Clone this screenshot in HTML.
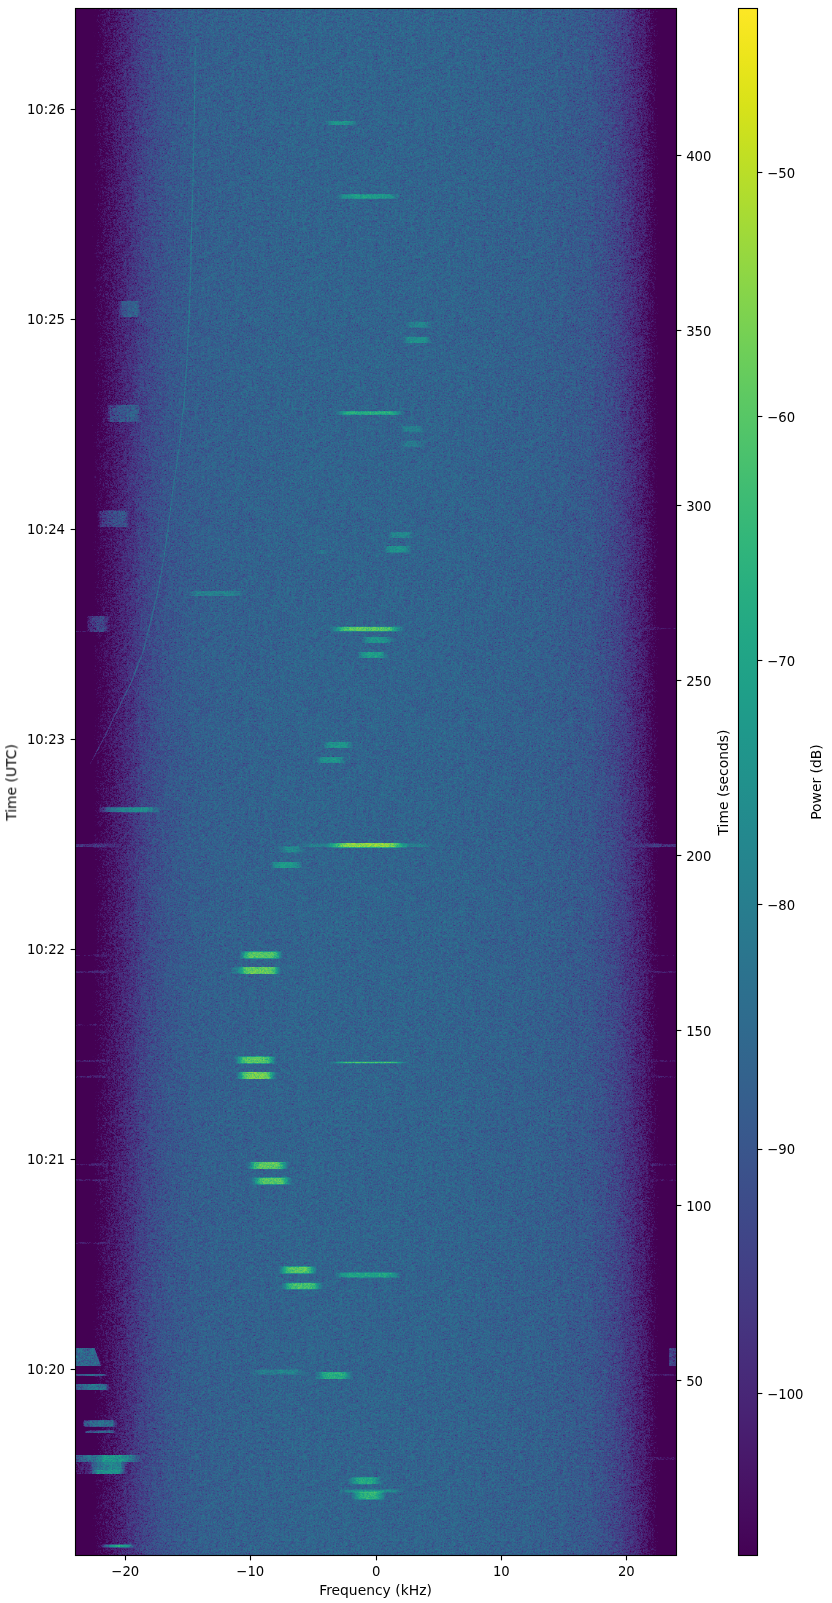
<!DOCTYPE html>
<html lang="en"><head><meta charset="utf-8"><title>Waterfall</title>
<style>html,body{margin:0;padding:0;background:#fff}svg{display:block}text{font-family:"DejaVu Sans","Liberation Sans",sans-serif;font-size:13.889px;fill:#000}</style>
</head><body>
<svg width="832" height="1603" viewBox="0 0 832 1603">
<defs>
<linearGradient id="prof" gradientUnits="userSpaceOnUse" x1="76" y1="0" x2="676" y2="0">
<stop offset="0.0000" stop-color="rgb(10,128,0)"/>
<stop offset="0.0167" stop-color="rgb(41,128,0)"/>
<stop offset="0.0233" stop-color="rgb(78,140,0)"/>
<stop offset="0.0283" stop-color="rgb(91,148,0)"/>
<stop offset="0.0333" stop-color="rgb(98,148,0)"/>
<stop offset="0.0400" stop-color="rgb(102,148,0)"/>
<stop offset="0.0483" stop-color="rgb(106,148,0)"/>
<stop offset="0.0600" stop-color="rgb(110,145,0)"/>
<stop offset="0.0733" stop-color="rgb(116,143,0)"/>
<stop offset="0.0900" stop-color="rgb(123,140,0)"/>
<stop offset="0.1067" stop-color="rgb(131,138,0)"/>
<stop offset="0.1233" stop-color="rgb(136,135,0)"/>
<stop offset="0.1483" stop-color="rgb(142,133,0)"/>
<stop offset="0.1817" stop-color="rgb(146,130,0)"/>
<stop offset="0.2400" stop-color="rgb(149,128,0)"/>
<stop offset="0.3733" stop-color="rgb(151,128,0)"/>
<stop offset="0.5000" stop-color="rgb(151,128,0)"/>
<stop offset="0.6233" stop-color="rgb(151,128,0)"/>
<stop offset="0.7483" stop-color="rgb(149,128,0)"/>
<stop offset="0.7900" stop-color="rgb(148,130,0)"/>
<stop offset="0.8233" stop-color="rgb(146,133,0)"/>
<stop offset="0.8567" stop-color="rgb(144,135,0)"/>
<stop offset="0.8817" stop-color="rgb(139,138,0)"/>
<stop offset="0.9017" stop-color="rgb(134,140,0)"/>
<stop offset="0.9183" stop-color="rgb(127,143,0)"/>
<stop offset="0.9350" stop-color="rgb(119,145,0)"/>
<stop offset="0.9483" stop-color="rgb(113,148,0)"/>
<stop offset="0.9567" stop-color="rgb(107,148,0)"/>
<stop offset="0.9633" stop-color="rgb(102,148,0)"/>
<stop offset="0.9683" stop-color="rgb(97,148,0)"/>
<stop offset="0.9733" stop-color="rgb(90,148,0)"/>
<stop offset="0.9783" stop-color="rgb(71,140,0)"/>
<stop offset="0.9850" stop-color="rgb(33,128,0)"/>
<stop offset="1.0000" stop-color="rgb(10,128,0)"/>
</linearGradient>
<linearGradient id="s10"><stop offset="0" stop-color="rgb(255,102,0)" stop-opacity="0"/><stop offset="0.050" stop-color="rgb(255,102,0)" stop-opacity="0.4"/><stop offset="0.100" stop-color="rgb(255,102,0)" stop-opacity="0.85"/><stop offset="0.160" stop-color="rgb(255,102,0)" stop-opacity="1"/><stop offset="0.840" stop-color="rgb(255,102,0)" stop-opacity="1"/><stop offset="0.900" stop-color="rgb(255,102,0)" stop-opacity="0.85"/><stop offset="0.950" stop-color="rgb(255,102,0)" stop-opacity="0.4"/><stop offset="1" stop-color="rgb(255,102,0)" stop-opacity="0"/></linearGradient>
<linearGradient id="s14"><stop offset="0" stop-color="rgb(255,102,0)" stop-opacity="0"/><stop offset="0.070" stop-color="rgb(255,102,0)" stop-opacity="0.4"/><stop offset="0.140" stop-color="rgb(255,102,0)" stop-opacity="0.85"/><stop offset="0.224" stop-color="rgb(255,102,0)" stop-opacity="1"/><stop offset="0.776" stop-color="rgb(255,102,0)" stop-opacity="1"/><stop offset="0.860" stop-color="rgb(255,102,0)" stop-opacity="0.85"/><stop offset="0.930" stop-color="rgb(255,102,0)" stop-opacity="0.4"/><stop offset="1" stop-color="rgb(255,102,0)" stop-opacity="0"/></linearGradient>
<linearGradient id="s15"><stop offset="0" stop-color="rgb(255,102,0)" stop-opacity="0"/><stop offset="0.075" stop-color="rgb(255,102,0)" stop-opacity="0.4"/><stop offset="0.150" stop-color="rgb(255,102,0)" stop-opacity="0.85"/><stop offset="0.240" stop-color="rgb(255,102,0)" stop-opacity="1"/><stop offset="0.760" stop-color="rgb(255,102,0)" stop-opacity="1"/><stop offset="0.850" stop-color="rgb(255,102,0)" stop-opacity="0.85"/><stop offset="0.925" stop-color="rgb(255,102,0)" stop-opacity="0.4"/><stop offset="1" stop-color="rgb(255,102,0)" stop-opacity="0"/></linearGradient>
<linearGradient id="s16"><stop offset="0" stop-color="rgb(255,102,0)" stop-opacity="0"/><stop offset="0.080" stop-color="rgb(255,102,0)" stop-opacity="0.4"/><stop offset="0.160" stop-color="rgb(255,102,0)" stop-opacity="0.85"/><stop offset="0.256" stop-color="rgb(255,102,0)" stop-opacity="1"/><stop offset="0.744" stop-color="rgb(255,102,0)" stop-opacity="1"/><stop offset="0.840" stop-color="rgb(255,102,0)" stop-opacity="0.85"/><stop offset="0.920" stop-color="rgb(255,102,0)" stop-opacity="0.4"/><stop offset="1" stop-color="rgb(255,102,0)" stop-opacity="0"/></linearGradient>
<linearGradient id="s17"><stop offset="0" stop-color="rgb(255,102,0)" stop-opacity="0"/><stop offset="0.085" stop-color="rgb(255,102,0)" stop-opacity="0.4"/><stop offset="0.170" stop-color="rgb(255,102,0)" stop-opacity="0.85"/><stop offset="0.272" stop-color="rgb(255,102,0)" stop-opacity="1"/><stop offset="0.728" stop-color="rgb(255,102,0)" stop-opacity="1"/><stop offset="0.830" stop-color="rgb(255,102,0)" stop-opacity="0.85"/><stop offset="0.915" stop-color="rgb(255,102,0)" stop-opacity="0.4"/><stop offset="1" stop-color="rgb(255,102,0)" stop-opacity="0"/></linearGradient>
<linearGradient id="s18"><stop offset="0" stop-color="rgb(255,102,0)" stop-opacity="0"/><stop offset="0.090" stop-color="rgb(255,102,0)" stop-opacity="0.4"/><stop offset="0.180" stop-color="rgb(255,102,0)" stop-opacity="0.85"/><stop offset="0.288" stop-color="rgb(255,102,0)" stop-opacity="1"/><stop offset="0.712" stop-color="rgb(255,102,0)" stop-opacity="1"/><stop offset="0.820" stop-color="rgb(255,102,0)" stop-opacity="0.85"/><stop offset="0.910" stop-color="rgb(255,102,0)" stop-opacity="0.4"/><stop offset="1" stop-color="rgb(255,102,0)" stop-opacity="0"/></linearGradient>
<linearGradient id="s19"><stop offset="0" stop-color="rgb(255,102,0)" stop-opacity="0"/><stop offset="0.095" stop-color="rgb(255,102,0)" stop-opacity="0.4"/><stop offset="0.190" stop-color="rgb(255,102,0)" stop-opacity="0.85"/><stop offset="0.304" stop-color="rgb(255,102,0)" stop-opacity="1"/><stop offset="0.696" stop-color="rgb(255,102,0)" stop-opacity="1"/><stop offset="0.810" stop-color="rgb(255,102,0)" stop-opacity="0.85"/><stop offset="0.905" stop-color="rgb(255,102,0)" stop-opacity="0.4"/><stop offset="1" stop-color="rgb(255,102,0)" stop-opacity="0"/></linearGradient>
<linearGradient id="s20"><stop offset="0" stop-color="rgb(255,102,0)" stop-opacity="0"/><stop offset="0.100" stop-color="rgb(255,102,0)" stop-opacity="0.4"/><stop offset="0.200" stop-color="rgb(255,102,0)" stop-opacity="0.85"/><stop offset="0.320" stop-color="rgb(255,102,0)" stop-opacity="1"/><stop offset="0.680" stop-color="rgb(255,102,0)" stop-opacity="1"/><stop offset="0.800" stop-color="rgb(255,102,0)" stop-opacity="0.85"/><stop offset="0.900" stop-color="rgb(255,102,0)" stop-opacity="0.4"/><stop offset="1" stop-color="rgb(255,102,0)" stop-opacity="0"/></linearGradient>
<linearGradient id="s21"><stop offset="0" stop-color="rgb(255,102,0)" stop-opacity="0"/><stop offset="0.105" stop-color="rgb(255,102,0)" stop-opacity="0.4"/><stop offset="0.210" stop-color="rgb(255,102,0)" stop-opacity="0.85"/><stop offset="0.336" stop-color="rgb(255,102,0)" stop-opacity="1"/><stop offset="0.664" stop-color="rgb(255,102,0)" stop-opacity="1"/><stop offset="0.790" stop-color="rgb(255,102,0)" stop-opacity="0.85"/><stop offset="0.895" stop-color="rgb(255,102,0)" stop-opacity="0.4"/><stop offset="1" stop-color="rgb(255,102,0)" stop-opacity="0"/></linearGradient>
<linearGradient id="s22"><stop offset="0" stop-color="rgb(255,102,0)" stop-opacity="0"/><stop offset="0.110" stop-color="rgb(255,102,0)" stop-opacity="0.4"/><stop offset="0.220" stop-color="rgb(255,102,0)" stop-opacity="0.85"/><stop offset="0.352" stop-color="rgb(255,102,0)" stop-opacity="1"/><stop offset="0.648" stop-color="rgb(255,102,0)" stop-opacity="1"/><stop offset="0.780" stop-color="rgb(255,102,0)" stop-opacity="0.85"/><stop offset="0.890" stop-color="rgb(255,102,0)" stop-opacity="0.4"/><stop offset="1" stop-color="rgb(255,102,0)" stop-opacity="0"/></linearGradient>
<linearGradient id="s23"><stop offset="0" stop-color="rgb(255,102,0)" stop-opacity="0"/><stop offset="0.115" stop-color="rgb(255,102,0)" stop-opacity="0.4"/><stop offset="0.230" stop-color="rgb(255,102,0)" stop-opacity="0.85"/><stop offset="0.368" stop-color="rgb(255,102,0)" stop-opacity="1"/><stop offset="0.632" stop-color="rgb(255,102,0)" stop-opacity="1"/><stop offset="0.770" stop-color="rgb(255,102,0)" stop-opacity="0.85"/><stop offset="0.885" stop-color="rgb(255,102,0)" stop-opacity="0.4"/><stop offset="1" stop-color="rgb(255,102,0)" stop-opacity="0"/></linearGradient>
<linearGradient id="s27"><stop offset="0" stop-color="rgb(255,102,0)" stop-opacity="0"/><stop offset="0.135" stop-color="rgb(255,102,0)" stop-opacity="0.4"/><stop offset="0.270" stop-color="rgb(255,102,0)" stop-opacity="0.85"/><stop offset="0.432" stop-color="rgb(255,102,0)" stop-opacity="1"/><stop offset="0.568" stop-color="rgb(255,102,0)" stop-opacity="1"/><stop offset="0.730" stop-color="rgb(255,102,0)" stop-opacity="0.85"/><stop offset="0.865" stop-color="rgb(255,102,0)" stop-opacity="0.4"/><stop offset="1" stop-color="rgb(255,102,0)" stop-opacity="0"/></linearGradient>
<linearGradient id="s28"><stop offset="0" stop-color="rgb(255,102,0)" stop-opacity="0"/><stop offset="0.140" stop-color="rgb(255,102,0)" stop-opacity="0.4"/><stop offset="0.280" stop-color="rgb(255,102,0)" stop-opacity="0.85"/><stop offset="0.448" stop-color="rgb(255,102,0)" stop-opacity="1"/><stop offset="0.552" stop-color="rgb(255,102,0)" stop-opacity="1"/><stop offset="0.720" stop-color="rgb(255,102,0)" stop-opacity="0.85"/><stop offset="0.860" stop-color="rgb(255,102,0)" stop-opacity="0.4"/><stop offset="1" stop-color="rgb(255,102,0)" stop-opacity="0"/></linearGradient>
<linearGradient id="s32"><stop offset="0" stop-color="rgb(255,102,0)" stop-opacity="0"/><stop offset="0.160" stop-color="rgb(255,102,0)" stop-opacity="0.4"/><stop offset="0.320" stop-color="rgb(255,102,0)" stop-opacity="0.85"/><stop offset="0.500" stop-color="rgb(255,102,0)" stop-opacity="1"/><stop offset="0.500" stop-color="rgb(255,102,0)" stop-opacity="1"/><stop offset="0.680" stop-color="rgb(255,102,0)" stop-opacity="0.85"/><stop offset="0.840" stop-color="rgb(255,102,0)" stop-opacity="0.4"/><stop offset="1" stop-color="rgb(255,102,0)" stop-opacity="0"/></linearGradient>
<linearGradient id="s33"><stop offset="0" stop-color="rgb(255,102,0)" stop-opacity="0"/><stop offset="0.165" stop-color="rgb(255,102,0)" stop-opacity="0.4"/><stop offset="0.330" stop-color="rgb(255,102,0)" stop-opacity="0.85"/><stop offset="0.500" stop-color="rgb(255,102,0)" stop-opacity="1"/><stop offset="0.500" stop-color="rgb(255,102,0)" stop-opacity="1"/><stop offset="0.670" stop-color="rgb(255,102,0)" stop-opacity="0.85"/><stop offset="0.835" stop-color="rgb(255,102,0)" stop-opacity="0.4"/><stop offset="1" stop-color="rgb(255,102,0)" stop-opacity="0"/></linearGradient>
<linearGradient id="a0"><stop offset="0" stop-color="rgb(126,166,0)" stop-opacity="0"/><stop offset="0.12" stop-color="rgb(133,166,0)" stop-opacity="1"/><stop offset="0.5" stop-color="rgb(143,166,0)" stop-opacity="1"/><stop offset="0.85" stop-color="rgb(149,166,0)" stop-opacity="1"/><stop offset="1" stop-color="rgb(149,166,0)" stop-opacity="0"/></linearGradient>
<linearGradient id="a1"><stop offset="0" stop-color="rgb(117,166,0)" stop-opacity="0"/><stop offset="0.12" stop-color="rgb(125,166,0)" stop-opacity="1"/><stop offset="0.5" stop-color="rgb(137,166,0)" stop-opacity="1"/><stop offset="0.85" stop-color="rgb(144,166,0)" stop-opacity="1"/><stop offset="1" stop-color="rgb(145,166,0)" stop-opacity="0"/></linearGradient>
<linearGradient id="a2"><stop offset="0" stop-color="rgb(111,166,0)" stop-opacity="0"/><stop offset="0.2" stop-color="rgb(119,166,0)" stop-opacity="1"/><stop offset="0.5" stop-color="rgb(130,166,0)" stop-opacity="1"/><stop offset="0.75" stop-color="rgb(136,166,0)" stop-opacity="1"/><stop offset="1" stop-color="rgb(137,166,0)" stop-opacity="0"/></linearGradient>
<linearGradient id="a3"><stop offset="0" stop-color="rgb(111,166,0)" stop-opacity="1"/><stop offset="1" stop-color="rgb(116,166,0)" stop-opacity="1"/></linearGradient>
<linearGradient id="a4"><stop offset="0" stop-color="rgb(136,166,0)" stop-opacity="1"/><stop offset="0.5" stop-color="rgb(151,166,0)" stop-opacity="1"/><stop offset="0.85" stop-color="rgb(148,166,0)" stop-opacity="1"/><stop offset="1" stop-color="rgb(140,166,0)" stop-opacity="0"/></linearGradient>
<linearGradient id="a5"><stop offset="0" stop-color="rgb(143,166,0)" stop-opacity="1"/><stop offset="0.5" stop-color="rgb(163,166,0)" stop-opacity="1"/><stop offset="0.85" stop-color="rgb(157,166,0)" stop-opacity="1"/><stop offset="1" stop-color="rgb(148,166,0)" stop-opacity="0"/></linearGradient>
<linearGradient id="a6"><stop offset="0" stop-color="rgb(133,166,0)" stop-opacity="0"/><stop offset="0.12" stop-color="rgb(143,166,0)" stop-opacity="1"/><stop offset="0.5" stop-color="rgb(159,166,0)" stop-opacity="1"/><stop offset="0.88" stop-color="rgb(154,166,0)" stop-opacity="1"/><stop offset="1" stop-color="rgb(148,166,0)" stop-opacity="0"/></linearGradient>
<linearGradient id="a7"><stop offset="0" stop-color="rgb(133,166,0)" stop-opacity="0"/><stop offset="0.1" stop-color="rgb(143,166,0)" stop-opacity="1"/><stop offset="0.85" stop-color="rgb(149,166,0)" stop-opacity="1"/><stop offset="1" stop-color="rgb(148,166,0)" stop-opacity="0"/></linearGradient>
<linearGradient id="a8"><stop offset="0" stop-color="rgb(143,166,0)" stop-opacity="1"/><stop offset="0.25" stop-color="rgb(157,166,0)" stop-opacity="1"/><stop offset="0.45" stop-color="rgb(183,166,0)" stop-opacity="1"/><stop offset="0.75" stop-color="rgb(178,166,0)" stop-opacity="1"/><stop offset="0.9" stop-color="rgb(163,166,0)" stop-opacity="0.7"/><stop offset="1" stop-color="rgb(148,166,0)" stop-opacity="0"/></linearGradient>
<linearGradient id="a9"><stop offset="0" stop-color="rgb(110,166,0)" stop-opacity="1"/><stop offset="0.5" stop-color="rgb(117,166,0)" stop-opacity="1"/><stop offset="1" stop-color="rgb(133,166,0)" stop-opacity="1"/></linearGradient>
<linearGradient id="a10"><stop offset="0" stop-color="rgb(125,166,0)" stop-opacity="0"/><stop offset="0.12" stop-color="rgb(152,166,0)" stop-opacity="1"/><stop offset="0.5" stop-color="rgb(172,166,0)" stop-opacity="1"/><stop offset="0.8" stop-color="rgb(169,166,0)" stop-opacity="1"/><stop offset="1" stop-color="rgb(148,166,0)" stop-opacity="0"/></linearGradient>
<linearGradient id="a11"><stop offset="0" stop-color="rgb(148,166,0)" stop-opacity="0"/><stop offset="0.2" stop-color="rgb(178,166,0)" stop-opacity="1"/><stop offset="0.8" stop-color="rgb(178,166,0)" stop-opacity="1"/><stop offset="1" stop-color="rgb(148,166,0)" stop-opacity="0"/></linearGradient>
<linearGradient id="a12"><stop offset="0" stop-color="rgb(125,166,0)" stop-opacity="0"/><stop offset="0.3" stop-color="rgb(133,166,0)" stop-opacity="1"/><stop offset="1" stop-color="rgb(131,166,0)" stop-opacity="1"/></linearGradient>
<linearGradient id="e0" gradientUnits="userSpaceOnUse" x1="76" y1="0" x2="676" y2="0"><stop offset="0" stop-color="rgb(123,128,0)" stop-opacity="1"/><stop offset="0.045" stop-color="rgb(128,128,0)" stop-opacity="0.9"/><stop offset="0.075" stop-color="rgb(136,128,0)" stop-opacity="0"/><stop offset="0.91" stop-color="rgb(137,128,0)" stop-opacity="0"/><stop offset="0.955" stop-color="rgb(130,128,0)" stop-opacity="0.9"/><stop offset="1" stop-color="rgb(125,128,0)" stop-opacity="1"/></linearGradient>
<linearGradient id="e1" gradientUnits="userSpaceOnUse" x1="76" y1="0" x2="676" y2="0"><stop offset="0" stop-color="rgb(110,128,0)" stop-opacity="1"/><stop offset="0.045" stop-color="rgb(114,128,0)" stop-opacity="0.9"/><stop offset="0.075" stop-color="rgb(122,128,0)" stop-opacity="0"/><stop offset="0.91" stop-color="rgb(119,128,0)" stop-opacity="0"/><stop offset="0.955" stop-color="rgb(111,128,0)" stop-opacity="0.9"/><stop offset="1" stop-color="rgb(107,128,0)" stop-opacity="1"/></linearGradient>
<linearGradient id="e2" gradientUnits="userSpaceOnUse" x1="76" y1="0" x2="676" y2="0"><stop offset="0" stop-color="rgb(116,128,0)" stop-opacity="1"/><stop offset="0.045" stop-color="rgb(120,128,0)" stop-opacity="0.9"/><stop offset="0.075" stop-color="rgb(128,128,0)" stop-opacity="0"/><stop offset="0.91" stop-color="rgb(123,128,0)" stop-opacity="0"/><stop offset="0.955" stop-color="rgb(116,128,0)" stop-opacity="0.9"/><stop offset="1" stop-color="rgb(111,128,0)" stop-opacity="1"/></linearGradient>
<linearGradient id="e3" gradientUnits="userSpaceOnUse" x1="76" y1="0" x2="676" y2="0"><stop offset="0" stop-color="rgb(107,128,0)" stop-opacity="1"/><stop offset="0.045" stop-color="rgb(111,128,0)" stop-opacity="0.9"/><stop offset="0.075" stop-color="rgb(119,128,0)" stop-opacity="0"/><stop offset="0.91" stop-color="rgb(114,128,0)" stop-opacity="0"/><stop offset="0.955" stop-color="rgb(107,128,0)" stop-opacity="0"/><stop offset="1" stop-color="rgb(102,128,0)" stop-opacity="0"/></linearGradient>
<linearGradient id="e4" gradientUnits="userSpaceOnUse" x1="76" y1="0" x2="676" y2="0"><stop offset="0" stop-color="rgb(113,128,0)" stop-opacity="1"/><stop offset="0.045" stop-color="rgb(117,128,0)" stop-opacity="0.9"/><stop offset="0.075" stop-color="rgb(125,128,0)" stop-opacity="0"/><stop offset="0.91" stop-color="rgb(122,128,0)" stop-opacity="0"/><stop offset="0.955" stop-color="rgb(114,128,0)" stop-opacity="0.9"/><stop offset="1" stop-color="rgb(110,128,0)" stop-opacity="1"/></linearGradient>
<linearGradient id="e5" gradientUnits="userSpaceOnUse" x1="76" y1="0" x2="676" y2="0"><stop offset="0" stop-color="rgb(114,128,0)" stop-opacity="1"/><stop offset="0.045" stop-color="rgb(119,128,0)" stop-opacity="0.9"/><stop offset="0.075" stop-color="rgb(126,128,0)" stop-opacity="0"/><stop offset="0.91" stop-color="rgb(122,128,0)" stop-opacity="0"/><stop offset="0.955" stop-color="rgb(114,128,0)" stop-opacity="0.9"/><stop offset="1" stop-color="rgb(110,128,0)" stop-opacity="1"/></linearGradient>
<linearGradient id="e6" gradientUnits="userSpaceOnUse" x1="76" y1="0" x2="676" y2="0"><stop offset="0" stop-color="rgb(113,128,0)" stop-opacity="1"/><stop offset="0.045" stop-color="rgb(117,128,0)" stop-opacity="0.9"/><stop offset="0.075" stop-color="rgb(125,128,0)" stop-opacity="0"/><stop offset="0.91" stop-color="rgb(123,128,0)" stop-opacity="0"/><stop offset="0.955" stop-color="rgb(116,128,0)" stop-opacity="0.9"/><stop offset="1" stop-color="rgb(111,128,0)" stop-opacity="1"/></linearGradient>
<linearGradient id="e7" gradientUnits="userSpaceOnUse" x1="76" y1="0" x2="676" y2="0"><stop offset="0" stop-color="rgb(111,128,0)" stop-opacity="1"/><stop offset="0.045" stop-color="rgb(116,128,0)" stop-opacity="0.9"/><stop offset="0.075" stop-color="rgb(123,128,0)" stop-opacity="0"/><stop offset="0.91" stop-color="rgb(119,128,0)" stop-opacity="0"/><stop offset="0.955" stop-color="rgb(111,128,0)" stop-opacity="0.9"/><stop offset="1" stop-color="rgb(107,128,0)" stop-opacity="1"/></linearGradient>
<linearGradient id="e8" gradientUnits="userSpaceOnUse" x1="76" y1="0" x2="676" y2="0"><stop offset="0" stop-color="rgb(110,128,0)" stop-opacity="1"/><stop offset="0.045" stop-color="rgb(114,128,0)" stop-opacity="0.9"/><stop offset="0.075" stop-color="rgb(122,128,0)" stop-opacity="0"/><stop offset="0.91" stop-color="rgb(114,128,0)" stop-opacity="0"/><stop offset="0.955" stop-color="rgb(107,128,0)" stop-opacity="0"/><stop offset="1" stop-color="rgb(102,128,0)" stop-opacity="0"/></linearGradient>
<linearGradient id="e9" gradientUnits="userSpaceOnUse" x1="76" y1="0" x2="676" y2="0"><stop offset="0" stop-color="rgb(102,128,0)" stop-opacity="0"/><stop offset="0.045" stop-color="rgb(107,128,0)" stop-opacity="0"/><stop offset="0.075" stop-color="rgb(114,128,0)" stop-opacity="0"/><stop offset="0.91" stop-color="rgb(122,128,0)" stop-opacity="0"/><stop offset="0.955" stop-color="rgb(114,128,0)" stop-opacity="0.9"/><stop offset="1" stop-color="rgb(110,128,0)" stop-opacity="1"/></linearGradient>
<linearGradient id="e10" gradientUnits="userSpaceOnUse" x1="76" y1="0" x2="676" y2="0"><stop offset="0" stop-color="rgb(102,128,0)" stop-opacity="0"/><stop offset="0.045" stop-color="rgb(107,128,0)" stop-opacity="0"/><stop offset="0.075" stop-color="rgb(114,128,0)" stop-opacity="0"/><stop offset="0.91" stop-color="rgb(122,128,0)" stop-opacity="0"/><stop offset="0.955" stop-color="rgb(114,128,0)" stop-opacity="0.9"/><stop offset="1" stop-color="rgb(110,128,0)" stop-opacity="1"/></linearGradient>
<linearGradient id="e11" gradientUnits="userSpaceOnUse" x1="76" y1="0" x2="676" y2="0"><stop offset="0" stop-color="rgb(102,128,0)" stop-opacity="0"/><stop offset="0.045" stop-color="rgb(107,128,0)" stop-opacity="0"/><stop offset="0.075" stop-color="rgb(114,128,0)" stop-opacity="0"/><stop offset="0.91" stop-color="rgb(120,128,0)" stop-opacity="0"/><stop offset="0.955" stop-color="rgb(113,128,0)" stop-opacity="0.9"/><stop offset="1" stop-color="rgb(108,128,0)" stop-opacity="1"/></linearGradient>
<linearGradient id="fb" gradientUnits="userSpaceOnUse" x1="76" y1="0" x2="676" y2="0">
<stop offset="0.0000" stop-color="rgb(68,1,84)"/>
<stop offset="0.0167" stop-color="rgb(68,1,84)"/>
<stop offset="0.0233" stop-color="rgb(68,1,84)"/>
<stop offset="0.0283" stop-color="rgb(68,1,84)"/>
<stop offset="0.0333" stop-color="rgb(68,1,84)"/>
<stop offset="0.0400" stop-color="rgb(68,1,84)"/>
<stop offset="0.0483" stop-color="rgb(70,10,93)"/>
<stop offset="0.0600" stop-color="rgb(72,22,104)"/>
<stop offset="0.0733" stop-color="rgb(72,33,115)"/>
<stop offset="0.0900" stop-color="rgb(70,48,126)"/>
<stop offset="0.1067" stop-color="rgb(66,64,134)"/>
<stop offset="0.1233" stop-color="rgb(62,74,137)"/>
<stop offset="0.1483" stop-color="rgb(57,85,140)"/>
<stop offset="0.1817" stop-color="rgb(54,92,141)"/>
<stop offset="0.2400" stop-color="rgb(52,97,141)"/>
<stop offset="0.3733" stop-color="rgb(50,100,142)"/>
<stop offset="0.5000" stop-color="rgb(50,101,142)"/>
<stop offset="0.6233" stop-color="rgb(50,100,142)"/>
<stop offset="0.7483" stop-color="rgb(52,97,141)"/>
<stop offset="0.7900" stop-color="rgb(53,95,141)"/>
<stop offset="0.8233" stop-color="rgb(54,92,141)"/>
<stop offset="0.8567" stop-color="rgb(56,88,140)"/>
<stop offset="0.8817" stop-color="rgb(60,80,139)"/>
<stop offset="0.9017" stop-color="rgb(64,70,136)"/>
<stop offset="0.9183" stop-color="rgb(68,57,131)"/>
<stop offset="0.9350" stop-color="rgb(72,40,120)"/>
<stop offset="0.9483" stop-color="rgb(72,26,108)"/>
<stop offset="0.9567" stop-color="rgb(71,13,96)"/>
<stop offset="0.9633" stop-color="rgb(68,1,84)"/>
<stop offset="0.9683" stop-color="rgb(68,1,84)"/>
<stop offset="0.9733" stop-color="rgb(68,1,84)"/>
<stop offset="0.9783" stop-color="rgb(68,1,84)"/>
<stop offset="0.9850" stop-color="rgb(68,1,84)"/>
<stop offset="1.0000" stop-color="rgb(68,1,84)"/>
</linearGradient>
<linearGradient id="cb" x1="0" y1="1" x2="0" y2="0">
<stop offset="0.0000" stop-color="rgb(68,1,84)"/>
<stop offset="0.0312" stop-color="rgb(71,13,96)"/>
<stop offset="0.0625" stop-color="rgb(72,24,106)"/>
<stop offset="0.0938" stop-color="rgb(72,35,116)"/>
<stop offset="0.1250" stop-color="rgb(71,45,123)"/>
<stop offset="0.1562" stop-color="rgb(69,55,129)"/>
<stop offset="0.1875" stop-color="rgb(66,64,134)"/>
<stop offset="0.2188" stop-color="rgb(62,73,137)"/>
<stop offset="0.2500" stop-color="rgb(59,82,139)"/>
<stop offset="0.2812" stop-color="rgb(55,91,141)"/>
<stop offset="0.3125" stop-color="rgb(51,99,141)"/>
<stop offset="0.3438" stop-color="rgb(47,107,142)"/>
<stop offset="0.3750" stop-color="rgb(44,114,142)"/>
<stop offset="0.4062" stop-color="rgb(41,122,142)"/>
<stop offset="0.4375" stop-color="rgb(38,130,142)"/>
<stop offset="0.4688" stop-color="rgb(35,137,142)"/>
<stop offset="0.5000" stop-color="rgb(33,145,140)"/>
<stop offset="0.5312" stop-color="rgb(31,152,139)"/>
<stop offset="0.5625" stop-color="rgb(31,160,136)"/>
<stop offset="0.5938" stop-color="rgb(34,167,133)"/>
<stop offset="0.6250" stop-color="rgb(40,174,128)"/>
<stop offset="0.6562" stop-color="rgb(50,182,122)"/>
<stop offset="0.6875" stop-color="rgb(63,188,115)"/>
<stop offset="0.7188" stop-color="rgb(78,195,107)"/>
<stop offset="0.7500" stop-color="rgb(94,201,98)"/>
<stop offset="0.7812" stop-color="rgb(112,207,87)"/>
<stop offset="0.8125" stop-color="rgb(132,212,75)"/>
<stop offset="0.8438" stop-color="rgb(152,216,62)"/>
<stop offset="0.8750" stop-color="rgb(173,220,48)"/>
<stop offset="0.9062" stop-color="rgb(194,223,35)"/>
<stop offset="0.9375" stop-color="rgb(216,226,25)"/>
<stop offset="0.9688" stop-color="rgb(236,229,27)"/>
<stop offset="1.0000" stop-color="rgb(253,231,37)"/>
</linearGradient>
<filter id="wf" filterUnits="userSpaceOnUse" x="76" y="9" width="600" height="1546" color-interpolation-filters="sRGB">
<feTurbulence type="fractalNoise" baseFrequency="2.37 2.71" numOctaves="1" seed="7" result="t"/>
<feColorMatrix in="t" type="matrix" values="1 0 0 0 0  1 0 0 0 0  1 0 0 0 0  0 0 0 0 1" result="n"/>
<feComponentTransfer in="n" result="n2"><feFuncR type="table" tableValues="0.000 0.000 0.000 0.000 0.000 0.000 0.000 0.000 0.000 0.043 0.080 0.109 0.140 0.169 0.194 0.221 0.247 0.271 0.294 0.314 0.333 0.351 0.367 0.382 0.397 0.411 0.425 0.438 0.452 0.465 0.479 0.493 0.506 0.521 0.534 0.547 0.558 0.570 0.581 0.592 0.603 0.614 0.624 0.635 0.646 0.657 0.669 0.680 0.692 0.704 0.716 0.727 0.738 0.749 0.760 0.772 0.787 0.800 0.806 0.816 0.832 0.832 0.832 0.832 0.832"/><feFuncG type="table" tableValues="0.000 0.000 0.000 0.000 0.000 0.000 0.000 0.000 0.000 0.043 0.080 0.109 0.140 0.169 0.194 0.221 0.247 0.271 0.294 0.314 0.333 0.351 0.367 0.382 0.397 0.411 0.425 0.438 0.452 0.465 0.479 0.493 0.506 0.521 0.534 0.547 0.558 0.570 0.581 0.592 0.603 0.614 0.624 0.635 0.646 0.657 0.669 0.680 0.692 0.704 0.716 0.727 0.738 0.749 0.760 0.772 0.787 0.800 0.806 0.816 0.832 0.832 0.832 0.832 0.832"/><feFuncB type="table" tableValues="0.000 0.000 0.000 0.000 0.000 0.000 0.000 0.000 0.000 0.043 0.080 0.109 0.140 0.169 0.194 0.221 0.247 0.271 0.294 0.314 0.333 0.351 0.367 0.382 0.397 0.411 0.425 0.438 0.452 0.465 0.479 0.493 0.506 0.521 0.534 0.547 0.558 0.570 0.581 0.592 0.603 0.614 0.624 0.635 0.646 0.657 0.669 0.680 0.692 0.704 0.716 0.727 0.738 0.749 0.760 0.772 0.787 0.800 0.806 0.816 0.832 0.832 0.832 0.832 0.832"/></feComponentTransfer>
<feColorMatrix in="SourceGraphic" type="matrix" values="1 0 0 0 0  1 0 0 0 0  1 0 0 0 0  0 0 0 0 1" result="L"/>
<feColorMatrix in="SourceGraphic" type="matrix" values="0 1 0 0 0  0 1 0 0 0  0 1 0 0 0  0 0 0 0 1" result="A"/>
<feConvolveMatrix in="n2" order="3" kernelMatrix="0.01 0.06 0.01 0.06 0.72 0.06 0.01 0.06 0.01" divisor="1" edgeMode="duplicate" preserveAlpha="true" result="n3"/>
<feComposite in="A" in2="n3" operator="arithmetic" k1="0.7" k2="0" k3="0" k4="0" result="P"/>
<feComposite in="L" in2="A" operator="arithmetic" k1="0" k2="1" k3="-0.35" k4="0" result="Q1"/>
<feComposite in="Q1" in2="P" operator="arithmetic" k1="0" k2="1" k3="1" k4="0" result="Q"/>
<feComponentTransfer in="Q">
<feFuncR type="table" tableValues="0.2670 0.2670 0.2670 0.2670 0.2670 0.2670 0.2670 0.2670 0.2670 0.2670 0.2670 0.2670 0.2670 0.2670 0.2670 0.2670 0.2670 0.2670 0.2670 0.2670 0.2670 0.2670 0.2670 0.2670 0.2670 0.2670 0.2670 0.2670 0.2670 0.2670 0.2670 0.2670 0.2670 0.2670 0.2670 0.2670 0.2670 0.2670 0.2670 0.2670 0.2670 0.2670 0.2670 0.2670 0.2670 0.2670 0.2670 0.2670 0.2670 0.2670 0.2670 0.2670 0.2699 0.2738 0.2779 0.2803 0.2819 0.2831 0.2832 0.2826 0.2809 0.2788 0.2762 0.2718 0.2680 0.2637 0.2573 0.2522 0.2468 0.2393 0.2336 0.2259 0.2201 0.2143 0.2068 0.2012 0.1959 0.1889 0.1839 0.1790 0.1727 0.1681 0.1636 0.1577 0.1534 0.1490 0.1433 0.1391 0.1351 0.1299 0.1265 0.1235 0.1206 0.1195 0.1197 0.1223 0.1263 0.1323 0.1433 0.1539 0.1664 0.1858 0.2022 0.2201 0.2461 0.2669 0.2889 0.3198 0.3441 0.3692 0.4040 0.4310 0.4587 0.4966 0.5258 0.5555 0.5958 0.6266 0.6576 0.6994 0.7309 0.7624 0.8042 0.8353 0.8660 0.9063 0.9359 0.9649 0.9932"/>
<feFuncG type="table" tableValues="0.0049 0.0049 0.0049 0.0049 0.0049 0.0049 0.0049 0.0049 0.0049 0.0049 0.0049 0.0049 0.0049 0.0049 0.0049 0.0049 0.0049 0.0049 0.0049 0.0049 0.0049 0.0049 0.0049 0.0049 0.0049 0.0049 0.0049 0.0049 0.0049 0.0049 0.0049 0.0049 0.0049 0.0049 0.0049 0.0049 0.0049 0.0049 0.0049 0.0049 0.0049 0.0049 0.0049 0.0049 0.0049 0.0049 0.0049 0.0049 0.0049 0.0049 0.0049 0.0049 0.0146 0.0315 0.0563 0.0734 0.0897 0.1106 0.1258 0.1409 0.1608 0.1755 0.1901 0.2093 0.2235 0.2376 0.2561 0.2698 0.2832 0.3009 0.3138 0.3308 0.3433 0.3556 0.3718 0.3837 0.3954 0.4109 0.4224 0.4338 0.4488 0.4600 0.4711 0.4859 0.4970 0.5081 0.5228 0.5338 0.5449 0.5596 0.5706 0.5817 0.5964 0.6075 0.6185 0.6332 0.6441 0.6550 0.6695 0.6802 0.6909 0.7049 0.7153 0.7255 0.7389 0.7488 0.7584 0.7709 0.7800 0.7889 0.8003 0.8085 0.8164 0.8264 0.8335 0.8403 0.8487 0.8546 0.8602 0.8671 0.8719 0.8764 0.8820 0.8860 0.8899 0.8949 0.8986 0.9023 0.9062"/>
<feFuncB type="table" tableValues="0.3294 0.3294 0.3294 0.3294 0.3294 0.3294 0.3294 0.3294 0.3294 0.3294 0.3294 0.3294 0.3294 0.3294 0.3294 0.3294 0.3294 0.3294 0.3294 0.3294 0.3294 0.3294 0.3294 0.3294 0.3294 0.3294 0.3294 0.3294 0.3294 0.3294 0.3294 0.3294 0.3294 0.3294 0.3294 0.3294 0.3294 0.3294 0.3294 0.3294 0.3294 0.3294 0.3294 0.3294 0.3294 0.3294 0.3294 0.3294 0.3294 0.3294 0.3294 0.3294 0.3414 0.3589 0.3812 0.3972 0.4124 0.4316 0.4450 0.4575 0.4729 0.4834 0.4930 0.5044 0.5120 0.5188 0.5266 0.5316 0.5359 0.5408 0.5439 0.5473 0.5494 0.5512 0.5531 0.5543 0.5553 0.5563 0.5569 0.5574 0.5579 0.5581 0.5581 0.5580 0.5577 0.5573 0.5563 0.5553 0.5540 0.5519 0.5498 0.5474 0.5436 0.5402 0.5363 0.5304 0.5253 0.5197 0.5112 0.5042 0.4965 0.4853 0.4761 0.4662 0.4520 0.4406 0.4284 0.4112 0.3974 0.3829 0.3626 0.3465 0.3297 0.3064 0.2881 0.2693 0.2433 0.2234 0.2031 0.1760 0.1560 0.1371 0.1150 0.1026 0.0960 0.0981 0.1081 0.1239 0.1439"/>
</feComponentTransfer>
</filter>
<filter id="vb" x="-5%" y="-60%" width="110%" height="220%"><feGaussianBlur stdDeviation="0 0.55"/></filter>
<filter id="vb2" x="-5%" y="-20%" width="110%" height="140%"><feGaussianBlur stdDeviation="0.6 0.5"/></filter>
</defs>
<rect width="832" height="1603" fill="#fff"/>
<rect x="76" y="9" width="600" height="1546" fill="url(#fb)"/>
<g filter="url(#wf)">
<rect x="76" y="9" width="600" height="1546" fill="url(#prof)"/>
<path d="M195.3 46 L194.6 100 L193.4 160 L191.8 220 L190.6 274 L189.4 310 L187 360 L184 402 L179.5 445 L173 489 L168.5 525 L164 558 L156 600 L143 652 L131 683 L116 713 L103 740 L90 764" fill="none" stroke="rgb(255,102,0)" stroke-opacity="0.17" stroke-width="1.1"/>
<rect x="76" y="843.4" width="600" height="4" fill="url(#e0)"/>
<rect x="76" y="954.3" width="600" height="2.4" fill="url(#e1)"/>
<rect x="76" y="970.7" width="600" height="2.6" fill="url(#e2)"/>
<rect x="76" y="1024.0" width="600" height="2" fill="url(#e3)"/>
<rect x="76" y="1059.7" width="600" height="2.6" fill="url(#e4)"/>
<rect x="76" y="1075.3" width="600" height="2.6" fill="url(#e5)"/>
<rect x="76" y="1163.3" width="600" height="2.6" fill="url(#e6)"/>
<rect x="76" y="1179.0" width="600" height="2.4" fill="url(#e7)"/>
<rect x="76" y="1241.8" width="600" height="2.4" fill="url(#e8)"/>
<rect x="76" y="1374.0" width="600" height="2" fill="url(#e9)"/>
<rect x="76" y="627.3" width="600" height="2.4" fill="url(#e10)"/>
<rect x="76" y="1457.0" width="600" height="3" fill="url(#e11)"/>
<linearGradient id="pg" gradientUnits="userSpaceOnUse" x1="76" y1="0" x2="104" y2="0"><stop offset="0" stop-color="rgb(152,166,0)"/><stop offset="0.6" stop-color="rgb(152,166,0)"/><stop offset="1" stop-color="rgb(143,166,0)"/></linearGradient>
<g filter="url(#vb2)"><path d="M75 1348 L94.5 1348 L101 1366 L75 1366 Z" fill="url(#pg)"/></g>
<g filter="url(#vb2)">
<rect x="106" y="405" width="35" height="17.0" fill="url(#a0)"/>
<rect x="97" y="510.5" width="32" height="16.5" fill="url(#a1)"/>
<rect x="83" y="616" width="27" height="16.0" fill="url(#a2)"/>
<rect x="76" y="630.6" width="14" height="2.0" fill="url(#a3)"/>
<rect x="76" y="1374" width="32" height="2.2" fill="url(#a4)"/>
<rect x="76" y="1384" width="34" height="6.0" fill="url(#a5)"/>
<rect x="80" y="1420.2" width="37" height="6.6" fill="url(#a6)"/>
<rect x="83" y="1430.4" width="34" height="2.6" fill="url(#a7)"/>
<rect x="76" y="1455" width="66" height="7.0" fill="url(#a8)"/>
<rect x="76" y="1462" width="24" height="12.0" fill="url(#a9)"/>
<rect x="89" y="1462" width="39" height="12.0" fill="url(#a10)"/>
<rect x="92" y="1470" width="32" height="4.0" fill="url(#a11)"/>
<rect x="667" y="1348" width="9" height="18.0" fill="url(#a12)"/>
</g>
<g filter="url(#vb)">
<rect x="323" y="121.0" width="36" height="4" fill="url(#s28)" opacity="0.316"/>
<rect x="334" y="194.2" width="67" height="4.5" fill="url(#s18)" opacity="0.344"/>
<rect x="405" y="321.7" width="27" height="6" fill="url(#s22)" opacity="0.199"/>
<rect x="402" y="337.0" width="30" height="6" fill="url(#s20)" opacity="0.258"/>
<rect x="335" y="411.2" width="69" height="3.6" fill="url(#s14)" opacity="0.455"/>
<rect x="399" y="426.0" width="26" height="6" fill="url(#s23)" opacity="0.169"/>
<rect x="400" y="440.7" width="22" height="6" fill="url(#s27)" opacity="0.147"/>
<rect x="387" y="532.0" width="27" height="6" fill="url(#s22)" opacity="0.212"/>
<rect x="383" y="546.1" width="29" height="6.5" fill="url(#s21)" opacity="0.286"/>
<rect x="314" y="550.0" width="15" height="4" fill="url(#s33)" opacity="0.119"/>
<rect x="184" y="591.0" width="62" height="5" fill="url(#s19)" opacity="0.190"/>
<rect x="329" y="626.8" width="76" height="4.5" fill="url(#s18)" opacity="0.617"/>
<rect x="361" y="637.0" width="33" height="6" fill="url(#s21)" opacity="0.285"/>
<rect x="356" y="652.0" width="32" height="6" fill="url(#s22)" opacity="0.344"/>
<rect x="322" y="742.0" width="32" height="6" fill="url(#s22)" opacity="0.287"/>
<rect x="315" y="757.0" width="32" height="6" fill="url(#s22)" opacity="0.287"/>
<rect x="96" y="807.2" width="67" height="5" fill="url(#s21)" opacity="0.368"/>
<rect x="326" y="843.0" width="83" height="4.6" fill="url(#s19)" opacity="0.705"/>
<rect x="296" y="843.5" width="140" height="3.6" fill="url(#s10)" opacity="0.167"/>
<rect x="278" y="846.5" width="26" height="6" fill="url(#s27)" opacity="0.232"/>
<rect x="269" y="862.0" width="34" height="6" fill="url(#s21)" opacity="0.320"/>
<rect x="239" y="951.5" width="44" height="7" fill="url(#s16)" opacity="0.608"/>
<rect x="238" y="967.0" width="43" height="7" fill="url(#s16)" opacity="0.651"/>
<rect x="229" y="967.5" width="19" height="6" fill="url(#s32)" opacity="0.184"/>
<rect x="234" y="1056.5" width="43" height="7" fill="url(#s19)" opacity="0.623"/>
<rect x="236" y="1072.0" width="41" height="7" fill="url(#s20)" opacity="0.681"/>
<rect x="328" y="1061.7" width="82" height="1.6" fill="url(#s17)" opacity="0.558"/>
<rect x="247" y="1162.0" width="42" height="7" fill="url(#s19)" opacity="0.622"/>
<rect x="251" y="1177.5" width="41" height="7" fill="url(#s20)" opacity="0.621"/>
<rect x="278" y="1266.5" width="40" height="7" fill="url(#s20)" opacity="0.619"/>
<rect x="281" y="1282.8" width="42" height="6.5" fill="url(#s19)" opacity="0.560"/>
<rect x="334" y="1272.5" width="68" height="5" fill="url(#s15)" opacity="0.388"/>
<rect x="249" y="1369.5" width="58" height="5" fill="url(#s17)" opacity="0.176"/>
<rect x="315" y="1372.0" width="38" height="7" fill="url(#s21)" opacity="0.441"/>
<rect x="348" y="1477.2" width="35" height="7" fill="url(#s23)" opacity="0.411"/>
<rect x="338" y="1489.5" width="66" height="3" fill="url(#s15)" opacity="0.241"/>
<rect x="351" y="1491.5" width="36" height="8" fill="url(#s22)" opacity="0.469"/>
<rect x="99" y="1544.6" width="39" height="2.8" fill="url(#s28)" opacity="0.557"/>
<rect x="118" y="301.0" width="23" height="16" fill="url(#s17)" opacity="0.185"/>
</g>
</g>
<rect x="75.5" y="8.5" width="601.0" height="1547.0" fill="none" stroke="#000" stroke-width="1.11"/>
<rect x="738.5" y="8.5" width="19.0" height="1547.0" fill="url(#cb)" stroke="#000" stroke-width="1.11"/>
<g stroke="#000" stroke-width="1.11" fill="none">
<line x1="125.5" y1="1555.5" x2="125.5" y2="1560.36"/>
<line x1="250.5" y1="1555.5" x2="250.5" y2="1560.36"/>
<line x1="376.5" y1="1555.5" x2="376.5" y2="1560.36"/>
<line x1="501.5" y1="1555.5" x2="501.5" y2="1560.36"/>
<line x1="626.5" y1="1555.5" x2="626.5" y2="1560.36"/>
<line x1="70.64" y1="109.5" x2="75.5" y2="109.5"/>
<line x1="70.64" y1="319.5" x2="75.5" y2="319.5"/>
<line x1="70.64" y1="529.5" x2="75.5" y2="529.5"/>
<line x1="70.64" y1="739.5" x2="75.5" y2="739.5"/>
<line x1="70.64" y1="949.5" x2="75.5" y2="949.5"/>
<line x1="70.64" y1="1159.5" x2="75.5" y2="1159.5"/>
<line x1="70.64" y1="1369.5" x2="75.5" y2="1369.5"/>
<line x1="676.5" y1="155.5" x2="681.36" y2="155.5"/>
<line x1="676.5" y1="330.5" x2="681.36" y2="330.5"/>
<line x1="676.5" y1="505.5" x2="681.36" y2="505.5"/>
<line x1="676.5" y1="680.5" x2="681.36" y2="680.5"/>
<line x1="676.5" y1="855.5" x2="681.36" y2="855.5"/>
<line x1="676.5" y1="1030.5" x2="681.36" y2="1030.5"/>
<line x1="676.5" y1="1205.5" x2="681.36" y2="1205.5"/>
<line x1="676.5" y1="1380.5" x2="681.36" y2="1380.5"/>
<line x1="757.5" y1="172.5" x2="762.36" y2="172.5"/>
<line x1="757.5" y1="416.5" x2="762.36" y2="416.5"/>
<line x1="757.5" y1="660.5" x2="762.36" y2="660.5"/>
<line x1="757.5" y1="904.5" x2="762.36" y2="904.5"/>
<line x1="757.5" y1="1149.5" x2="762.36" y2="1149.5"/>
<line x1="757.5" y1="1393.5" x2="762.36" y2="1393.5"/>
</g>
<g opacity="0.999">
<text transform="translate(125.3 1576.4) scale(0.953 1)" text-anchor="middle">−20</text>
<text transform="translate(250.3 1576.4) scale(0.953 1)" text-anchor="middle">−10</text>
<text transform="translate(376.3 1576.4) scale(0.953 1)" text-anchor="middle">0</text>
<text transform="translate(501.3 1576.4) scale(0.953 1)" text-anchor="middle">10</text>
<text transform="translate(626.3 1576.4) scale(0.953 1)" text-anchor="middle">20</text>
<text transform="translate(65.0 113.7) scale(0.953 1)" text-anchor="end">10:26</text>
<text transform="translate(65.0 323.7) scale(0.953 1)" text-anchor="end">10:25</text>
<text transform="translate(65.0 533.7) scale(0.953 1)" text-anchor="end">10:24</text>
<text transform="translate(65.0 743.7) scale(0.953 1)" text-anchor="end">10:23</text>
<text transform="translate(65.0 953.7) scale(0.953 1)" text-anchor="end">10:22</text>
<text transform="translate(65.0 1163.7) scale(0.953 1)" text-anchor="end">10:21</text>
<text transform="translate(65.0 1373.7) scale(0.953 1)" text-anchor="end">10:20</text>
<text transform="translate(686.2 160.7) scale(0.953 1)">400</text>
<text transform="translate(686.2 335.7) scale(0.953 1)">350</text>
<text transform="translate(686.2 510.7) scale(0.953 1)">300</text>
<text transform="translate(686.2 685.7) scale(0.953 1)">250</text>
<text transform="translate(686.2 860.7) scale(0.953 1)">200</text>
<text transform="translate(686.2 1035.7) scale(0.953 1)">150</text>
<text transform="translate(686.2 1210.7) scale(0.953 1)">100</text>
<text transform="translate(686.2 1385.7) scale(0.953 1)">50</text>
<text transform="translate(767.2 177.6) scale(0.953 1)">−50</text>
<text transform="translate(767.2 421.8) scale(0.953 1)">−60</text>
<text transform="translate(767.2 666.0) scale(0.953 1)">−70</text>
<text transform="translate(767.2 910.1) scale(0.953 1)">−80</text>
<text transform="translate(767.2 1154.3) scale(0.953 1)">−90</text>
<text transform="translate(767.2 1398.5) scale(0.953 1)">−100</text>
<text x="375.5" y="1595" text-anchor="middle">Frequency (kHz)</text>
<text transform="translate(16.2 782.5) rotate(-90)" text-anchor="middle">Time (UTC)</text>
<text transform="translate(728.2 782.5) rotate(-90)" text-anchor="middle">Time (seconds)</text>
<text transform="translate(821.4 782) rotate(-90)" text-anchor="middle">Power (dB)</text>
</g>
</svg></body></html>
